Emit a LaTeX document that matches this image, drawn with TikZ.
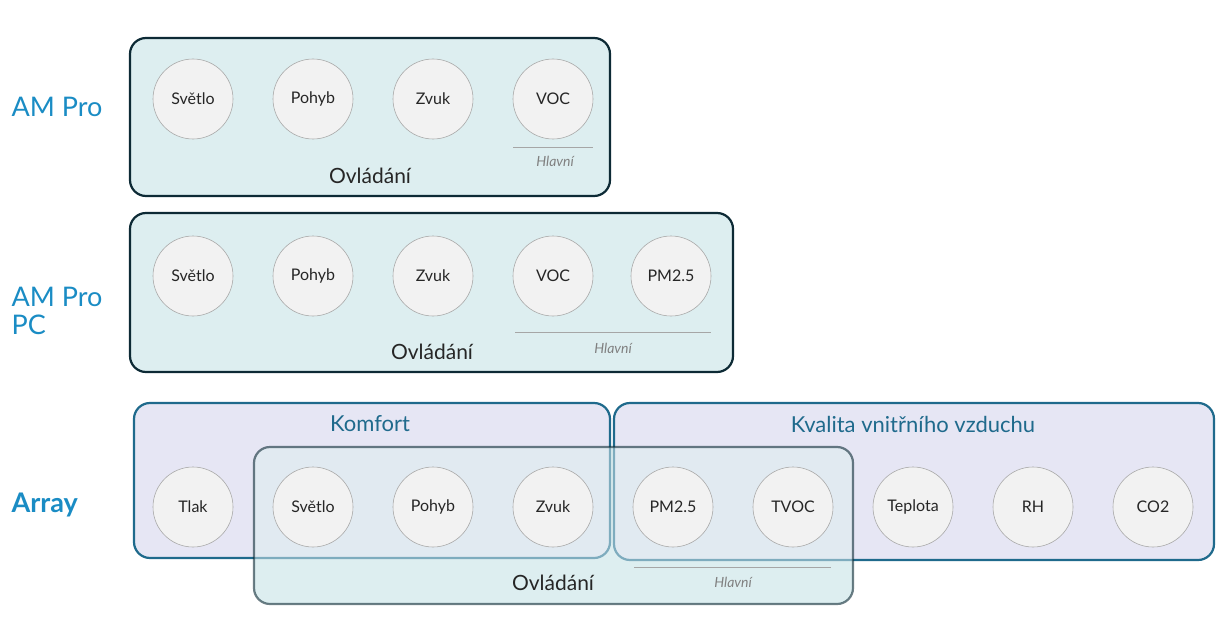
\documentclass[tikz,border=0pt]{standalone}
\usepackage{fontspec}
\setmainfont{Lato}
\begin{document}
\begin{tikzpicture}[x=1pt,y=-1pt,
  grp/.style={rounded corners=16pt,line width=2.2pt},
  ctrl/.style={grp,draw=ctrlb,fill=ctrlf},
  blu/.style={grp,draw=blub,fill=bluf},
  sens/.style={circle,minimum size=80pt,inner sep=0pt,fill=cf,draw=cb,line width=0.6pt,font=\fontsize{16}{18}\selectfont,text=black!85},
  hl/.style={font=\fontsize{14}{16}\selectfont\itshape,text=gray},
  ov/.style={font=\fontsize{21}{24}\selectfont,text=black!85},
  dev/.style={font=\fontsize{27}{30}\selectfont,text=devc,anchor=west,align=left},
  cat/.style={font=\fontsize{22}{26}\selectfont,text=blub}]
\definecolor{ctrlb}{HTML}{0D2A35}\definecolor{ctrlf}{HTML}{DDEEF0}
\definecolor{blub}{HTML}{1F6A8C}\definecolor{bluf}{HTML}{E6E6F4}
\definecolor{cf}{HTML}{F2F2F2}\definecolor{cb}{HTML}{AAAAAA}
\definecolor{devc}{HTML}{1A8CC4}
\useasboundingbox (0,0) rectangle (1217,623);
% boxes
\draw[ctrl] (130,38) rectangle (610,196);
\draw[ctrl] (130,213) rectangle (733,372);
\fill[ctrlf,rounded corners=16pt] (254,447) rectangle (853,604);
\draw[blu] (134,403) rectangle (610,558);
\draw[blu] (614,403) rectangle (1214,560);
\draw[grp,draw=ctrlb,draw opacity=0.6,fill=ctrlf,fill opacity=0.5] (254,447) rectangle (853,604);
% labels
\node[dev] (l1) at (8,107) {AM Pro};
\node[dev] (l2) at (8,311) {AM Pro\\[-2pt]PC};
\node[dev,font=\fontsize{27}{30}\selectfont\bfseries] (l3) at (8,505) {Array};
\node[cat] (k1) at (370,424) {Komfort};
\node[cat] (k2) at (913,424) {Kvalita vnitřního vzduchu};
\node[ov] (o1) at (370,176) {Ovládání};
\node[ov] (o2) at (432,352) {Ovládání};
\node[ov] (o3) at (553,583) {Ovládání};
% row1
\node[sens] (a1) at (193,99) {Světlo};
\node[sens] (a2) at (313,99) {Pohyb};
\node[sens] (a3) at (433,99) {Zvuk};
\node[sens] (a4) at (553,99) {VOC};
% row2
\node[sens] (b1) at (193,276) {Světlo};
\node[sens] (b2) at (313,276) {Pohyb};
\node[sens] (b3) at (433,276) {Zvuk};
\node[sens] (b4) at (553,276) {VOC};
\node[sens] (b5) at (671,276) {PM2.5};
% row3
\node[sens] (c1) at (193,507) {Tlak};
\node[sens] (c2) at (313,507) {Světlo};
\node[sens] (c3) at (433,507) {Pohyb};
\node[sens] (c4) at (553,507) {Zvuk};
\node[sens] (c5) at (673,507) {PM2.5};
\node[sens] (c6) at (793,507) {TVOC};
\node[sens] (c7) at (913,507) {Teplota};
\node[sens] (c8) at (1033,507) {RH};
\node[sens] (c9) at (1153,507) {CO2};
% Hlavni
\coordinate (h1a) at (513,147); \coordinate (h1b) at (593,147);
\draw[gray!70,line width=0.8pt] (h1a) -- (h1b);
\node[hl] (h1) at (555,161) {Hlavní};
\coordinate (h2a) at (515,332); \coordinate (h2b) at (711,332);
\draw[gray!70,line width=0.8pt] (h2a) -- (h2b);
\node[hl] (h2) at (613,348) {Hlavní};
\coordinate (h3a) at (634,567); \coordinate (h3b) at (831,567);
\draw[gray!70,line width=0.8pt] (h3a) -- (h3b);
\node[hl] (h3) at (733,582) {Hlavní};
\end{tikzpicture}
\end{document}
